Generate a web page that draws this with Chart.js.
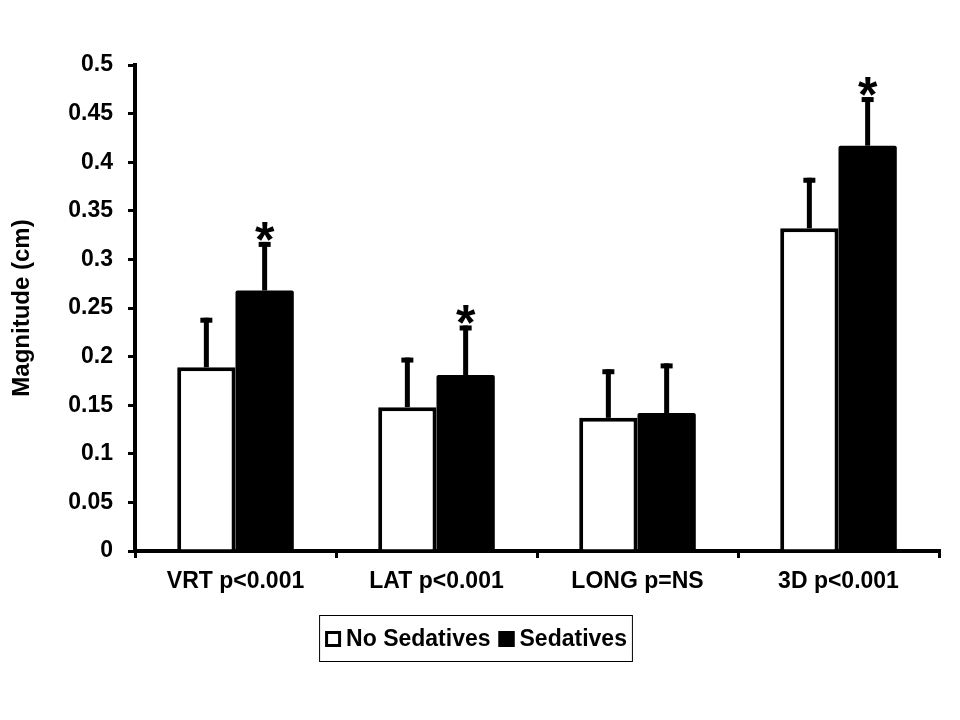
<!DOCTYPE html>
<html>
<head>
<meta charset="utf-8">
<script src="https://cdn.jsdelivr.net/npm/chart.js@4/dist/chart.umd.min.js"></script>
<style>
  html, body { margin: 0; padding: 0; background: #fff; }
  #wrap { width: 960px; height: 720px; }
</style>
</head>
<body>
<div id="wrap"><canvas id="chart" width="960" height="720"></canvas></div>
<script>
// categories and values
const categories = ["VRT p<0.001", "LAT p<0.001", "LONG p=NS", "3D p<0.001"];
const noSedatives = [0.189, 0.148, 0.137, 0.332];
const sedatives = [0.268, 0.181, 0.142, 0.417];
const noSedErr = [0.051, 0.051, 0.050, 0.052];
const sedErr = [0.050, 0.051, 0.051, 0.050];
const significant = [true, true, false, true]; // asterisk above sedatives bar

const FONT = "'Liberation Sans', Arial, sans-serif";

// draws the upward error bars and the asterisks
const errorBarPlugin = {
    id: 'errorBars',
    afterDatasetsDraw(chart) {
        const ctx = chart.ctx;
        const yScale = chart.scales.y;
        const errs = [noSedErr, sedErr];
        ctx.save();
        chart.data.datasets.forEach((ds, di) => {
            const meta = chart.getDatasetMeta(di);
            meta.data.forEach((bar, i) => {
                const top = yScale.getPixelForValue(ds.data[i] + errs[di][i]);
                const x = bar.x;
                ctx.fillStyle = '#000';
                ctx.fillRect(x - 2.5, top, 5, bar.y - top);
                ctx.fillRect(x - 6, top, 12, 5);
                if (di === 1 && significant[i]) {
                    ctx.font = "bold 50px " + FONT;
                    ctx.textAlign = 'center';
                    ctx.textBaseline = 'alphabetic';
                    ctx.fillText('*', x, top + 15);
                }
            });
        });
        ctx.restore();
    }
};

// legend drawn by hand so the box/text spacing matches
const legendPlugin = {
    id: 'boxedLegend',
    afterDraw(chart) {
        const ctx = chart.ctx;
        const sets = chart.data.datasets;
        ctx.save();
        ctx.font = "bold 23px " + FONT;
        const sq = 16, gapText = 5, gapItem = 8;
        const widths = sets.map(ds => ctx.measureText(ds.label).width);
        let total = 0;
        widths.forEach((w, i) => { total += sq + gapText + w + (i ? gapItem : 0); });
        const cx = 476, cy = 639;
        let x = cx - total / 2;
        ctx.strokeStyle = '#000';
        ctx.lineWidth = 1;
        ctx.strokeRect(x - 5.5, 615.5, total + 11, 46);
        ctx.textBaseline = 'middle';
        ctx.textAlign = 'left';
        sets.forEach((ds, i) => {
            if (i) x += gapItem;
            ctx.fillStyle = ds.backgroundColor;
            ctx.fillRect(x, cy - sq / 2, sq, sq);
            ctx.lineWidth = 3;
            ctx.strokeRect(x + 1.5, cy - sq / 2 + 1.5, sq - 3, sq - 3);
            x += sq + gapText;
            ctx.fillStyle = '#000';
            ctx.fillText(ds.label, x, cy + 1);
            x += widths[i];
        });
        ctx.restore();
    }
};

new Chart(document.getElementById('chart'), {
    type: 'bar',
    data: {
        labels: categories,
        datasets: [
            {
                label: 'No Sedatives',
                data: noSedatives,
                backgroundColor: '#fff',
                borderColor: '#000',
                borderWidth: 4,
                borderSkipped: 'bottom'
            },
            {
                label: 'Sedatives',
                data: sedatives,
                backgroundColor: '#000',
                borderColor: '#000',
                borderWidth: 0,
                borderRadius: 2
            }
        ]
    },
    options: {
        responsive: false,
        animation: false,
        devicePixelRatio: 1,
        categoryPercentage: 0.58,
        barPercentage: 1,
        layout: { padding: { left: 8, right: 21, top: 65, bottom: 109 } },
        scales: {
            x: {
                grid: { display: true, drawOnChartArea: false, drawTicks: true, tickLength: 7, color: '#000', lineWidth: 3, offset: true },
                border: { display: true, color: '#000', width: 4 },
                ticks: { color: '#000', font: { family: FONT, size: 23, weight: 'bold' }, padding: 10, maxRotation: 0 },
                afterFit(scale) { scale.height = 60; }
            },
            y: {
                min: 0,
                max: 0.5,
                ticks: {
                    stepSize: 0.05,
                    color: '#000',
                    font: { family: FONT, size: 23, weight: 'bold' },
                    padding: 15,
                    callback: v => String(Math.round(v * 100) / 100)
                },
                grid: { display: true, drawOnChartArea: false, drawTicks: true, tickLength: 7, color: '#000', lineWidth: 3 },
                border: { display: true, color: '#000', width: 4 },
                title: { display: true, text: 'Magnitude (cm)', color: '#000', font: { family: FONT, size: 24, weight: 'bold' }, padding: 0 },
                afterFit(scale) { scale.width = 127; }
            }
        },
        plugins: {
            legend: { display: false },
            tooltip: { enabled: false }
        }
    },
    plugins: [errorBarPlugin, legendPlugin]
});
</script>
</body>
</html>
